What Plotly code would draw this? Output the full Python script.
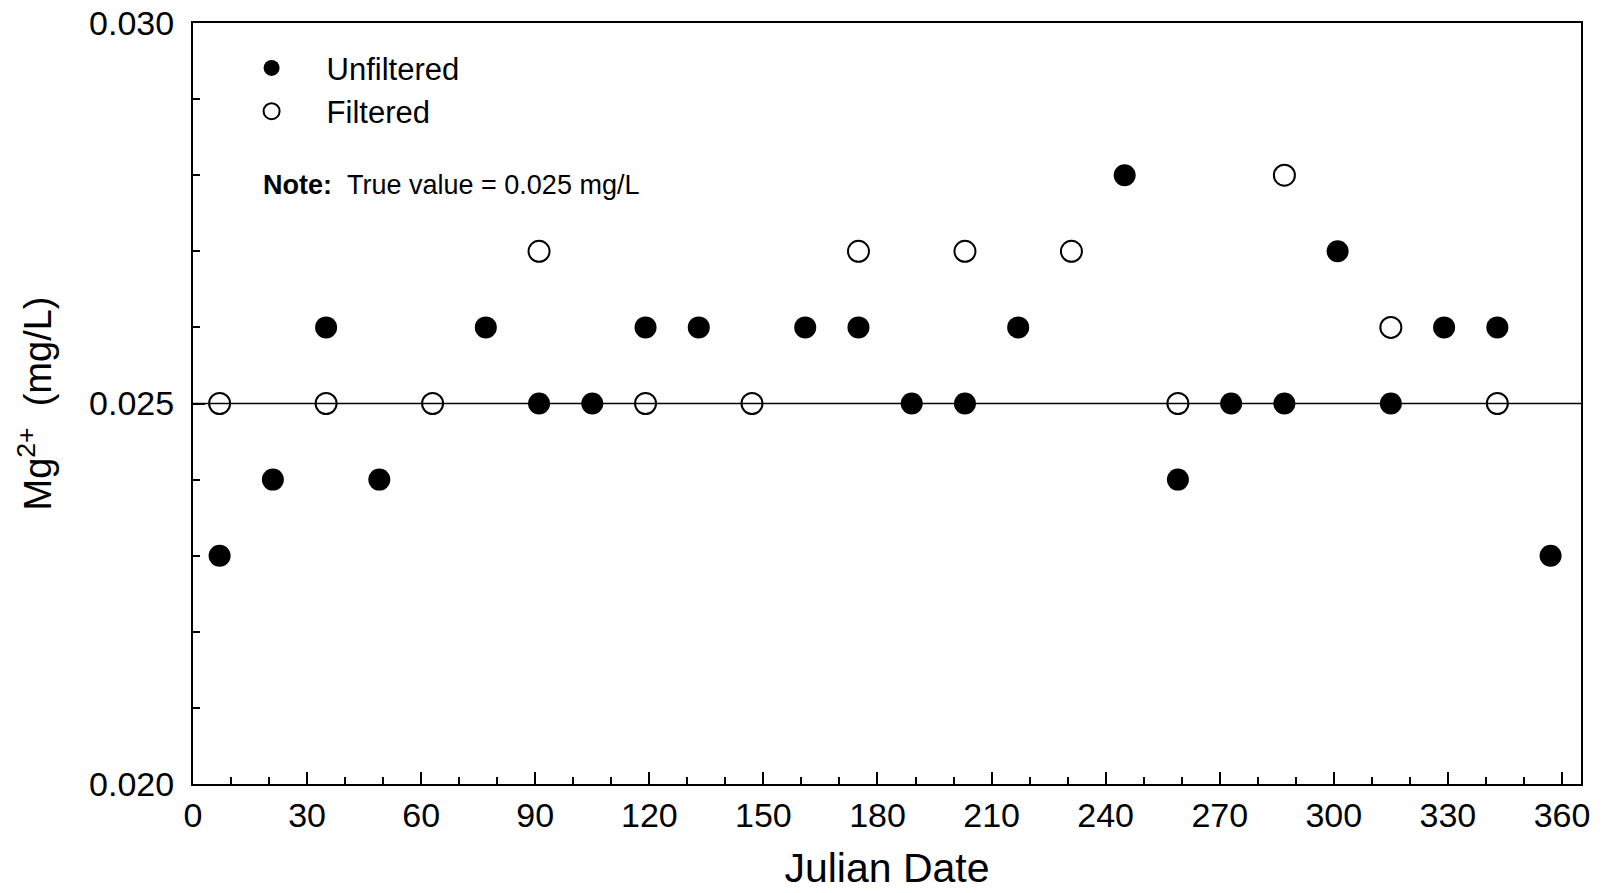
import plotly.graph_objects as go

# Unfiltered samples (Julian date, Mg2+ mg/L)
unf_days = [7, 21, 35, 49, 77, 91, 105, 119, 133, 161, 175, 189, 203, 217,
            245, 259, 273, 287, 301, 315, 329, 343, 357]
unf_vals = [0.023, 0.024, 0.026, 0.024, 0.026, 0.025, 0.025, 0.026, 0.026, 0.026,
            0.026, 0.025, 0.025, 0.026, 0.028, 0.024, 0.025, 0.025, 0.027, 0.025,
            0.026, 0.026, 0.023]

# Filtered samples
filt_days = [7, 35, 63, 91, 119, 147, 175, 203, 231, 259, 287, 315, 343]
filt_vals = [0.025, 0.025, 0.025, 0.027, 0.025, 0.025, 0.027, 0.027, 0.027,
             0.025, 0.028, 0.026, 0.025]

TRUE_VALUE = 0.025
x_ticks = [0, 30, 60, 90, 120, 150, 180, 210, 240, 270, 300, 330, 360]
y_ticks = [0.020, 0.025, 0.030]

FONT = "Liberation Sans, Arial, sans-serif"

fig = go.Figure()
fig.add_trace(go.Scatter(
    x=unf_days, y=unf_vals, mode="markers", name="Unfiltered",
    marker=dict(symbol="circle", size=22, color="black",
                line=dict(color="black", width=0)),
))
fig.add_trace(go.Scatter(
    x=filt_days, y=filt_vals, mode="markers", name="Filtered",
    marker=dict(symbol="circle-open", size=21, color="black",
                line=dict(color="black", width=2)),
))

fig.add_shape(type="line", xref="paper", yref="y", x0=0, x1=1,
              y0=TRUE_VALUE, y1=TRUE_VALUE, layer="below",
              line=dict(color="black", width=1.5))

fig.add_annotation(
    xref="paper", yref="paper", x=0.049, y=0.787, xanchor="left", yanchor="middle",
    text="<b>Note:</b>&nbsp;&nbsp;True value = 0.025 mg/L", showarrow=False,
    font=dict(family=FONT, size=27, color="black"),
)

fig.update_layout(
    width=1596, height=885,
    margin=dict(l=185, r=23, t=15, b=109),
    paper_bgcolor="white", plot_bgcolor="white",
    font=dict(family=FONT, color="black"),
    showlegend=True,
    legend=dict(x=0.017, y=0.976, xanchor="left", yanchor="top",
                bgcolor="rgba(0,0,0,0)", borderwidth=0,
                font=dict(family=FONT, size=31, color="black"),
                itemwidth=100, tracegroupgap=0),
    xaxis=dict(
        range=[0, 365], tickmode="array", tickvals=x_ticks,
        ticks="inside", ticklen=12, tickwidth=1.5, tickcolor="black",
        minor=dict(dtick=10, tick0=0, ticks="inside", ticklen=7,
                   tickwidth=1.5, tickcolor="black"),
        showgrid=False, zeroline=False, automargin=False,
        showline=True, linecolor="black", linewidth=2, mirror=True,
        tickfont=dict(family=FONT, size=34, color="black"),
        ticklabelstandoff=0, ticklabeloverflow="allow",
        title=dict(text="Julian Date", font=dict(family=FONT, size=41, color="black"),
                   standoff=21),
    ),
    yaxis=dict(
        range=[0.020, 0.030], tickmode="array", tickvals=y_ticks,
        tickformat=".3f",
        ticks="inside", ticklen=12, tickwidth=1.5, tickcolor="black",
        minor=dict(dtick=0.001, tick0=0.020, ticks="inside", ticklen=7,
                   tickwidth=1.5, tickcolor="black"),
        showgrid=False, zeroline=False, automargin=False,
        showline=True, linecolor="black", linewidth=2, mirror=True,
        tickfont=dict(family=FONT, size=34, color="black"),
        ticklabelstandoff=10, ticklabeloverflow="allow",
        title=dict(text="Mg<sup>2+</sup>&nbsp;&nbsp;(mg/L)",
                   font=dict(family=FONT, size=38, color="black"),
                   standoff=26),
    ),
)

fig.write_html("out.html")
